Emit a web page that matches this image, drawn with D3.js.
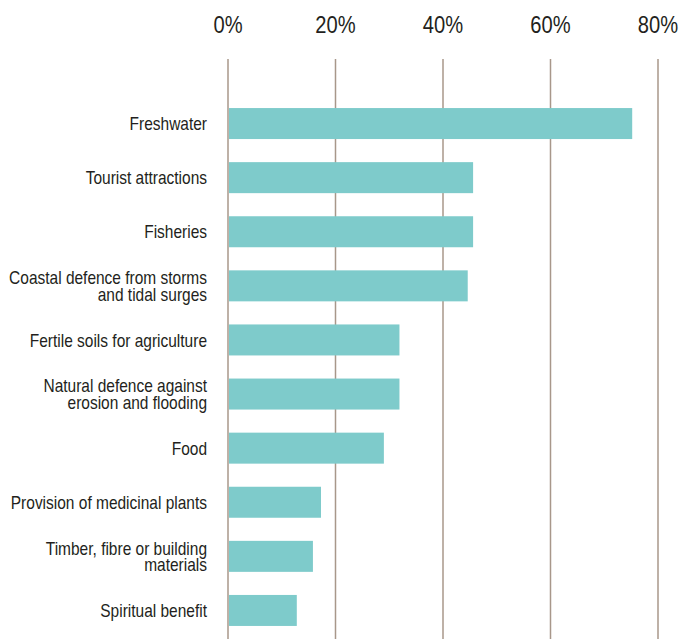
<!DOCTYPE html>
<html><head><meta charset="utf-8">
<script src="https://cdn.jsdelivr.net/npm/d3@7"></script>
<style>body{margin:0;background:#fff}</style>
</head><body>
<svg id="c" width="680" height="639"></svg>
<script>
const categories = [
  ["Freshwater"],
  ["Tourist attractions"],
  ["Fisheries"],
  ["Coastal defence from storms", "and tidal surges"],
  ["Fertile soils for agriculture"],
  ["Natural defence against", "erosion and flooding"],
  ["Food"],
  ["Provision of medicinal plants"],
  ["Timber, fibre or building", "materials"],
  ["Spiritual benefit"]
];
const values = [75.2, 45.6, 45.6, 44.6, 31.9, 31.9, 29.0, 17.3, 15.8, 12.8];
const tickValues = [0, 20, 40, 60, 80];

const svg = d3.select("#c");
const font = "'Liberation Sans', Arial, sans-serif";
const x = d3.scaleLinear().domain([0, 80]).range([228, 658]);
const y = d3.scaleBand().domain(d3.range(categories.length)).range([96.5, 637.5])
  .paddingInner(0.427).paddingOuter(0.2135);

// gridlines
svg.append("g").selectAll("line").data(tickValues).join("line")
  .attr("x1", d => x(d)).attr("x2", d => x(d))
  .attr("y1", 59).attr("y2", 639)
  .attr("stroke", "#a8978a").attr("stroke-width", 1.5);

// tick labels (condensed look via horizontal scale)
svg.append("g").selectAll("text").data(tickValues).join("text")
  .attr("transform", d => `translate(${x(d)},33) scale(0.84,1)`)
  .attr("text-anchor", "middle")
  .attr("font-family", font).attr("font-size", 24).attr("fill", "#231f20")
  .text(d => d + "%");

// bars
svg.append("g").selectAll("rect").data(values).join("rect")
  .attr("x", x(0) + 1).attr("y", (d, i) => y(i))
  .attr("width", d => x(d) - x(0) - 1).attr("height", y.bandwidth())
  .attr("fill", "#7ecbcb");

// category labels
const lab = svg.append("g").selectAll("text").data(categories).join("text")
  .attr("text-anchor", "end")
  .attr("font-family", font).attr("font-size", 19).attr("fill", "#231f20")
  .attr("transform", (d, i) => `translate(207,${y(i) + y.bandwidth() / 2}) scale(0.815,1)`);
lab.each(function(lines) {
  const t = d3.select(this);
  const n = lines.length;
  lines.forEach((s, k) => {
    t.append("tspan").attr("x", 0)
      .attr("y", (k - (n - 1) / 2) * 16.5)
      .attr("dy", "0.35em").text(s);
  });
});
</script>
</body></html>
